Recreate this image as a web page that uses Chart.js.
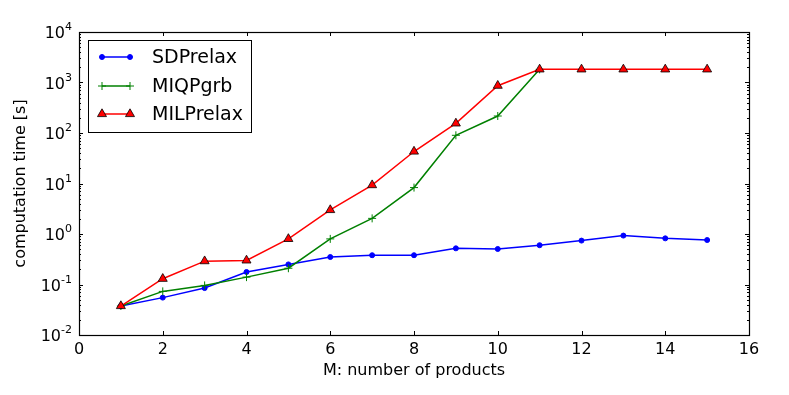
<!DOCTYPE html>
<html>
<head>
<meta charset="utf-8">
<script src="https://cdn.jsdelivr.net/npm/chart.js@4"></script>
<style>
html,body{margin:0;padding:0;background:#fff;}
#wrap{width:789px;height:395px;}
</style>
</head>
<body>
<div id="wrap"><canvas id="c" width="789" height="395"></canvas></div>
<script>
const products = [1,2,3,4,5,6,7,8,9,10,11,12,13,14,15];
const sdpRelax = [0.0375,0.055,0.085,0.177,0.25,0.35,0.38,0.38,0.52,0.505,0.6,0.74,0.93,0.82,0.76];
const miqpGrb = [0.0375,0.073,0.096,0.14,0.21,0.8,2.04,8.3,90,217,1820];
const milpRelax = [0.0375,0.13,0.29,0.30,0.8,2.99,9.3,43,155,865,1820,1820,1820,1820,1820];
const xTicks = [0,2,4,6,8,10,12,14,16];
const yExponents = [-2,-1,0,1,2,3,4];
const seriesNames = ['SDPrelax','MIQPgrb','MILPrelax'];
const xTitle = 'M: number of products';
const yTitle = 'computation time [s]';

function pts(ys){ return ys.map((v,i)=>({x:products[i], y:v})); }

const FONT = '"DejaVu Sans", sans-serif';

const framePlugin = {
  id:'frame',
  afterDatasetsDraw(chart){
    const ctx = chart.ctx, a = chart.chartArea;
    const xs = chart.scales.x, ys = chart.scales.y;
    ctx.save();
    ctx.strokeStyle = '#000';
    ctx.lineWidth = 1;
    // ticks
    ctx.beginPath();
    xTicks.forEach(t=>{
      const px = Math.round(xs.getPixelForValue(t))+0.5;
      ctx.moveTo(px,a.bottom); ctx.lineTo(px,a.bottom-4);
      ctx.moveTo(px,a.top); ctx.lineTo(px,a.top+4);
    });
    yExponents.forEach(e=>{
      const py = Math.round(ys.getPixelForValue(Math.pow(10,e)))+0.5;
      ctx.moveTo(a.left,py); ctx.lineTo(a.left+4,py);
      ctx.moveTo(a.right,py); ctx.lineTo(a.right-4,py);
      if(e < yExponents[yExponents.length-1]){
        for(let m=2;m<=9;m++){
          const pm = Math.round(ys.getPixelForValue(m*Math.pow(10,e)))+0.5;
          ctx.moveTo(a.left,pm); ctx.lineTo(a.left+2,pm);
          ctx.moveTo(a.right,pm); ctx.lineTo(a.right-2,pm);
        }
      }
    });
    ctx.stroke();
    // frame
    ctx.lineWidth = 1.2;
    ctx.strokeRect(Math.round(a.left)+0.5, Math.round(a.top)+0.5, Math.round(a.right-a.left), Math.round(a.bottom-a.top));
    // x tick labels
    ctx.fillStyle = '#000';
    ctx.font = '16px ' + FONT;
    ctx.textAlign = 'center';
    ctx.textBaseline = 'top';
    xTicks.forEach(t=>{
      ctx.fillText(String(t), xs.getPixelForValue(t), a.bottom+7);
    });
    // y tick labels with superscripts
    yExponents.forEach(e=>{
      const py = ys.getPixelForValue(Math.pow(10,e));
      const exp = e < 0 ? '-' + (-e) : String(e);
      ctx.font = '11px ' + FONT;
      const we = ctx.measureText(exp).width;
      const xEnd = a.left - 7;
      ctx.textAlign = 'left';
      ctx.textBaseline = 'alphabetic';
      ctx.fillText(exp, xEnd - we, py - 2);
      ctx.font = '16px ' + FONT;
      const wb = ctx.measureText('10').width;
      ctx.fillText('10', xEnd - we - wb, py + 6);
    });
    // axis titles
    ctx.font = '16px ' + FONT;
    ctx.textAlign = 'center';
    ctx.textBaseline = 'middle';
    ctx.fillText(xTitle, (a.left+a.right)/2, 371);
    ctx.save();
    ctx.translate(21,(a.top+a.bottom)/2);
    ctx.rotate(-Math.PI/2);
    ctx.fillText(yTitle, 0, 0);
    ctx.restore();
    // legend
    const lx = 88.5, ly = 40.5, lw = 163, lh = 92;
    ctx.fillStyle = '#fff';
    ctx.fillRect(lx,ly,lw,lh);
    ctx.lineWidth = 1;
    ctx.strokeStyle = '#000';
    ctx.strokeRect(lx,ly,lw,lh);
    const rowY = [57,86,114];
    chart.data.datasets.forEach((ds,i)=>{
      const y = rowY[i];
      ctx.strokeStyle = ds.borderColor;
      ctx.lineWidth = ds.borderWidth;
      ctx.beginPath(); ctx.moveTo(102,y); ctx.lineTo(130,y); ctx.stroke();
      [102,130].forEach(px=>{
        ctx.save();
        ctx.fillStyle = ds.pointBackgroundColor;
        ctx.strokeStyle = ds.pointBorderColor;
        ctx.lineWidth = ds.pointBorderWidth;
        Chart.helpers.drawPoint(ctx, {pointStyle: ds.pointStyle, radius: ds.pointRadius, borderWidth: ds.pointBorderWidth, rotation:0}, px, y);
        ctx.restore();
      });
      ctx.fillStyle = '#000';
      ctx.font = '19px ' + FONT;
      ctx.textAlign = 'left';
      ctx.textBaseline = 'middle';
      ctx.fillText(seriesNames[i], 152, y+1);
    });
    ctx.restore();
  }
};

new Chart(document.getElementById('c'), {
  type:'line',
  data:{
    datasets:[
      {label:seriesNames[0], data:pts(sdpRelax), borderColor:'#0000ff', backgroundColor:'#0000ff',
       borderWidth:1.5, pointStyle:'circle', pointRadius:2.5, pointBackgroundColor:'#0000ff', pointBorderColor:'#0000ff', pointBorderWidth:1, order:3},
      {label:seriesNames[1], data:pts(miqpGrb), borderColor:'#008000', backgroundColor:'#008000',
       borderWidth:1.5, pointStyle:'cross', pointRadius:4, pointBackgroundColor:'#008000', pointBorderColor:'#008000', pointBorderWidth:1, order:2},
      {label:seriesNames[2], data:pts(milpRelax), borderColor:'#ff0000', backgroundColor:'#ff0000',
       borderWidth:1.5, pointStyle:'triangle', pointRadius:5.2, pointBackgroundColor:'#ff0000', pointBorderColor:'#000000', pointBorderWidth:0.8, order:1}
    ]
  },
  options:{
    responsive:false,
    animation:false,
    events:[],
    layout:{padding:{left:79,right:40,top:32,bottom:60}},
    plugins:{legend:{display:false}, tooltip:{enabled:false}},
    scales:{
      x:{type:'linear', min:0, max:16, display:false},
      y:{type:'logarithmic', min:0.01, max:10000, display:false}
    }
  },
  plugins:[framePlugin]
});
</script>
</body>
</html>
